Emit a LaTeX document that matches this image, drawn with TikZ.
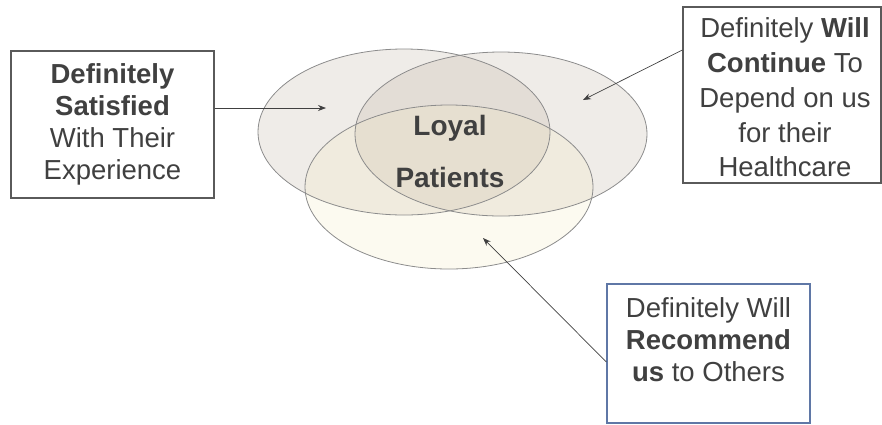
\documentclass[tikz,border=0pt]{standalone}
\usepackage{fontspec}
\setmainfont{Liberation Sans}
\usetikzlibrary{arrows.meta}

\definecolor{txtgray}{HTML}{404040}
\definecolor{boxgray}{HTML}{5A5A5A}
\definecolor{boxblue}{HTML}{5F77A6}
\definecolor{ovalbrown}{RGB}{187,171,155}
\definecolor{ovalcream}{RGB}{242,234,190}

\begin{document}
\begin{tikzpicture}[x=1pt, y=-1pt, font=\fontsize{27.5}{32}\selectfont, text=txtgray]
	\tikzstyle{ovalStyle}=[fill opacity=0.23]
	\tikzstyle{rimStyle}=[draw=gray!90, line width=0.8pt]
	\tikzstyle{boxStyle}=[draw=boxgray, line width=1.3pt, shape=rectangle, inner sep=0pt]
	\tikzstyle{labelStyle}=[align=center, inner sep=0pt]
	\tikzstyle{pointerStyle}=[draw=txtgray, line width=0.7pt, -{Stealth[length=8pt, width=6pt]}]
	\useasboundingbox (0,0) rectangle (882,424);

	% the three ovals
	\fill[ovalStyle, fill=ovalbrown] (404,132) ellipse [x radius=146, y radius=83];
	\fill[ovalStyle, fill=ovalbrown] (501,134) ellipse [x radius=146, y radius=82];
	\fill[ovalStyle, fill=ovalcream] (449,187) ellipse [x radius=144, y radius=82];
	\draw[rimStyle] (404,132) ellipse [x radius=146, y radius=83];
	\draw[rimStyle] (501,134) ellipse [x radius=146, y radius=82];
	\draw[rimStyle] (449,187) ellipse [x radius=144, y radius=82];

	\node[labelStyle, font=\fontsize{28}{52}\selectfont\bfseries] (loyal) at (450,151) {Loyal\\Patients};

	% boxes
	\node[boxStyle, minimum width=203pt, minimum height=147pt] (satBox) at (112.5,124.5) {};
	\node[labelStyle] (satText) at (112.5,124.5) {\textbf{Definitely}\\\textbf{Satisfied}\\With Their\\Experience};

	\node[boxStyle, minimum width=198pt, minimum height=176pt] (conBox) at (782,95) {};
	\node[labelStyle, font=\fontsize{27.5}{34.7}\selectfont] (conText) at (785,97.5) {Definitely \textbf{Will}\\\textbf{Continue} To\\Depend on us\\for their\\Healthcare};

	\node[boxStyle, draw=boxblue, minimum width=203pt, minimum height=139pt] (recBox) at (708.5,353.5) {};
	\node[labelStyle] (recText) at (708.5,340) {Definitely Will\\\textbf{Recommend}\\\textbf{us} to Others};

	% pointers
	\coordinate (satTip) at (326,108);
	\coordinate (conTip) at (583,100);
	\coordinate (recTip) at (483,238);
	\draw[pointerStyle] (satBox.east |- satTip) -- (satTip);
	\draw[pointerStyle] (conBox.west |- 0,50) -- (conTip);
	\draw[pointerStyle] (recBox.west |- 0,362) -- (recTip);
\end{tikzpicture}
\end{document}
